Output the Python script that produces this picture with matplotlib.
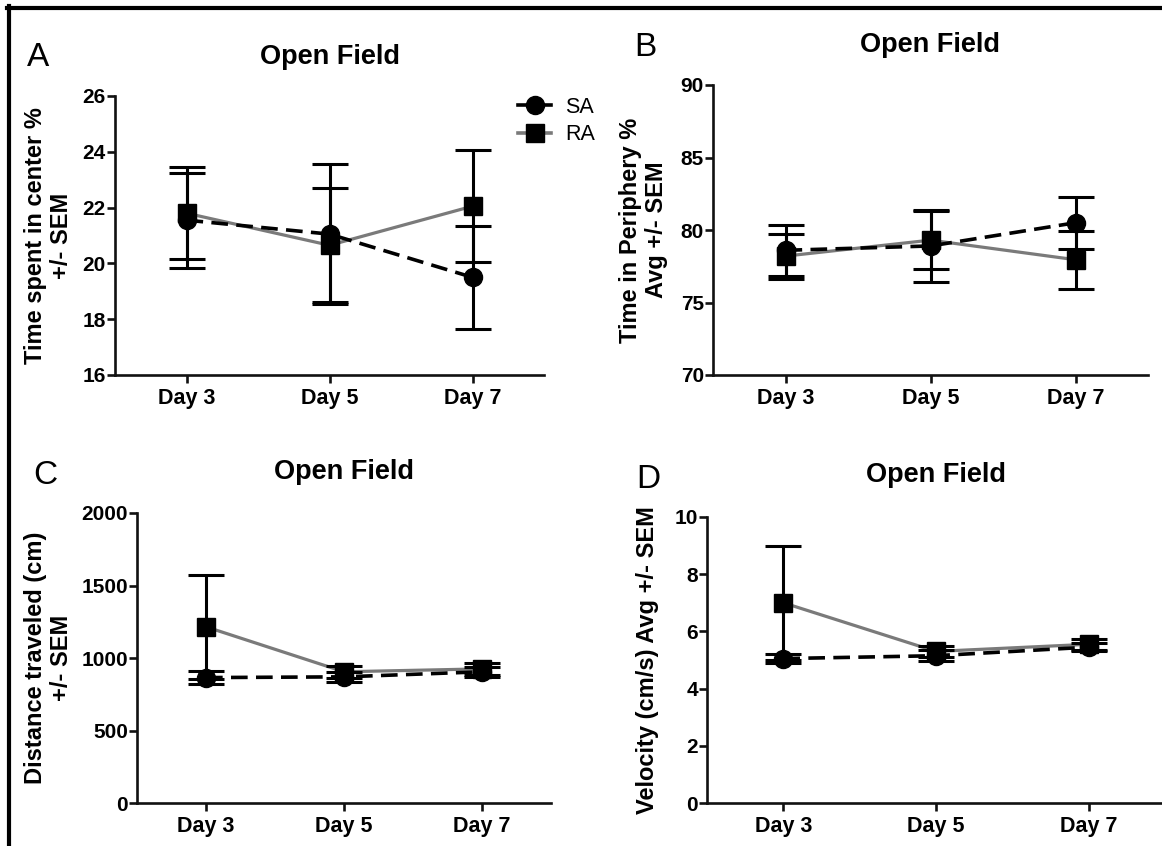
import matplotlib
matplotlib.use("Agg")
import matplotlib.pyplot as plt
from matplotlib.lines import Line2D
import numpy as np

plt.rcParams['font.family'] = ['Liberation Sans', 'DejaVu Sans']
plt.rcParams['lines.scale_dashes'] = False

days = ["Day 3", "Day 5", "Day 7"]

# Panel A: time spent in center %
a_sa = [21.55, 21.05, 19.5]
a_sa_err = [1.7, 2.5, 1.85]
a_ra = [21.8, 20.65, 22.05]
a_ra_err = [1.65, 2.05, 2.0]

# Panel B: time in periphery %
b_sa = [78.6, 78.9, 80.5]
b_sa_err = [1.75, 2.5, 1.8]
b_ra = [78.2, 79.3, 77.95]
b_ra_err = [1.55, 2.0, 2.0]

# Panel C: distance traveled (cm)
c_sa = [865, 870, 905]
c_sa_err = [45, 35, 35]
c_ra = [1215, 905, 925]
c_ra_err = [360, 40, 40]

# Panel D: velocity (cm/s)
d_sa = [5.05, 5.15, 5.45]
d_sa_err = [0.15, 0.2, 0.15]
d_ra = [7.0, 5.3, 5.55]
d_ra_err = [2.0, 0.2, 0.2]

W, H = 1162, 846
fig = plt.figure(figsize=(W / 100, H / 100), dpi=100)

def px_axes(left, right, top, bottom):
    return fig.add_axes([left / W, 1 - bottom / H, (right - left) / W, (bottom - top) / H])

GRAY = "#7a7a7a"

panels = [
    dict(box=(115, 544, 96, 375), sa=a_sa, sae=a_sa_err, ra=a_ra, rae=a_ra_err,
         ylim=(16, 26), yticks=np.arange(16, 27, 2),
         ylabel="Time spent in center %\n+/- SEM", lab_x=-0.098,
         letter="A", letter_xy=(38, 57), title_y=57),
    dict(box=(713, 1148, 85, 375), sa=b_sa, sae=b_sa_err, ra=b_ra, rae=b_ra_err,
         ylim=(70, 90), yticks=np.arange(70, 91, 5),
         ylabel="Time in Periphery %\nAvg +/- SEM", lab_x=-0.104,
         letter="B", letter_xy=(645, 47), title_y=45),
    dict(box=(137, 551, 513, 803), sa=c_sa, sae=c_sa_err, ra=c_ra, rae=c_ra_err,
         ylim=(0, 2000), yticks=np.arange(0, 2001, 500),
         ylabel="Distance traveled (cm)\n+/- SEM", lab_x=-0.155,
         letter="C", letter_xy=(45, 475), title_y=472),
    dict(box=(707, 1165, 517, 803), sa=d_sa, sae=d_sa_err, ra=d_ra, rae=d_ra_err,
         ylim=(0, 10), yticks=np.arange(0, 11, 2),
         ylabel="Velocity (cm/s) Avg +/- SEM", lab_x=-0.105,
         letter="D", letter_xy=(648, 479), title_y=475),
]

x = np.arange(len(days))
for p in panels:
    l, r, t, b = p["box"]
    ax = px_axes(l, r, t, b)
    # RA: gray solid line, square markers
    ax.plot(x, p["ra"], color=GRAY, lw=2.3, zorder=2)
    # SA: black dashed line, circle markers
    ax.plot(x, p["sa"], color="black", lw=2.6, dashes=(12, 6), zorder=3)
    ax.errorbar(x, p["ra"], yerr=p["rae"], fmt="none", ecolor="black",
                elinewidth=2.2, capsize=13, capthick=2.2, zorder=4)
    ax.errorbar(x, p["sa"], yerr=p["sae"], fmt="none", ecolor="black",
                elinewidth=2.2, capsize=13, capthick=2.2, zorder=4)
    ax.plot(x, p["ra"], ls="none", marker="s", ms=13, color="black", zorder=5)
    ax.plot(x, p["sa"], ls="none", marker="o", ms=13, color="black", zorder=5)

    ax.set_xlim(-0.5, 2.5)
    ax.set_ylim(*p["ylim"])
    ax.set_yticks(p["yticks"])
    ax.set_xticks(x)
    ax.set_xticklabels(days)
    for s in ["top", "right"]:
        ax.spines[s].set_visible(False)
    for s in ["left", "bottom"]:
        ax.spines[s].set_linewidth(1.9)
        ax.spines[s].set_color("#111111")
    ax.tick_params(axis="both", width=1.9, length=5.5, color="#111111")
    ax.tick_params(axis="y", pad=1, labelsize=15)
    ax.tick_params(axis="x", pad=4, labelsize=15.5)
    for lab in ax.get_xticklabels() + ax.get_yticklabels():
        lab.set_fontweight("bold")
    ax.set_ylabel(p["ylabel"], fontsize=17, fontweight="bold", linespacing=1.15)
    ax.yaxis.set_label_coords(p["lab_x"], 0.5)
    ax.patch.set_alpha(0)

    fig.text((l + r) / 2 / W, 1 - p["title_y"] / H, "Open Field",
             ha="center", va="center", fontsize=19.5, fontweight="bold")
    lx, ly = p["letter_xy"]
    fig.text(lx / W, 1 - ly / H, p["letter"], ha="center", va="center",
             fontsize=24)

# Legend
handles = [
    Line2D([], [], color="black", lw=2.6, marker="o", ms=13),
    Line2D([], [], color=GRAY, lw=2.6, marker="s", ms=13,
           markerfacecolor="black", markeredgecolor="black"),
]
fig.legend(handles, ["SA", "RA"], loc="upper left",
           bbox_to_anchor=(518 / W, 1 - 97 / H), frameon=False,
           fontsize=15.5, handlelength=1.55, handletextpad=0.65,
           labelspacing=0.3, borderpad=0, borderaxespad=0)

# Border lines (top and left)
fig.add_artist(Line2D([7 / W, 1], [1 - 8 / H, 1 - 8 / H], color="black",
                      lw=3.0, transform=fig.transFigure))
fig.add_artist(Line2D([9 / W, 9 / W], [0, 1 - 6 / H], color="black",
                      lw=3.0, transform=fig.transFigure))

fig.savefig("out.png", dpi=100)
